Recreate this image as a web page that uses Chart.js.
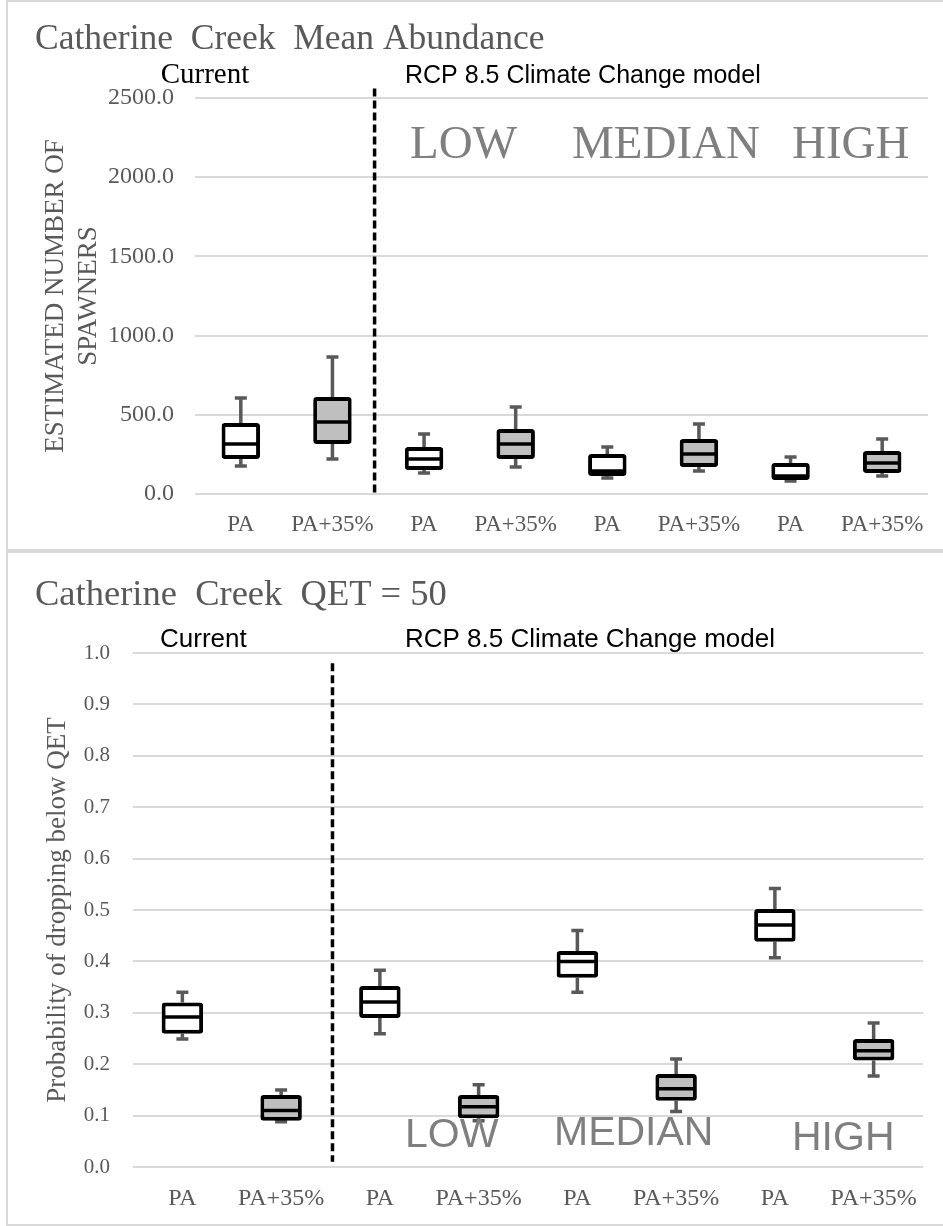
<!DOCTYPE html>
<html>
<head>
<meta charset="utf-8">
<script src="https://cdn.jsdelivr.net/npm/chart.js@4"></script>
<style>
body { margin: 0; background: #fff; width: 943px; height: 1226px; overflow: hidden; position: relative; }
.frame { position: absolute; border: 2px solid #d9d9d9; border-right: none; }
canvas { position: absolute; left: 0; }
</style>
</head>
<body>
<div class="frame" style="left:6px; top:0; width:940px; height:547px;"></div>
<div class="frame" style="left:6px; top:551px; width:940px; height:671px;"></div>
<canvas id="chart1" width="943" height="550" style="top:0"></canvas>
<canvas id="chart2" width="943" height="673" style="top:553px"></canvas>
<script>
// categories (same for both panels)
const categories = ['PA', 'PA+35%', 'PA', 'PA+35%', 'PA', 'PA+35%', 'PA', 'PA+35%'];

// top panel: estimated number of spawners
const abMin = [177, 221, 133, 170, 101, 145, 82, 114];
const abQ1  = [221, 316, 152, 221, 114, 170, 88, 133];
const abMed = [316, 455, 221, 316, 145, 252, 114, 196];
const abQ3  = [448, 612, 297, 410, 252, 347, 196, 271];
const abMax = [606, 865, 379, 549, 297, 442, 234, 347];
const abTicks = [0, 500, 1000, 1500, 2000, 2500];

// bottom panel: probability of dropping below QET
const qMin = [0.249, 0.088, 0.259, 0.090, 0.340, 0.108, 0.407, 0.177];
const qQ1  = [0.259, 0.090, 0.290, 0.095, 0.368, 0.129, 0.438, 0.207];
const qMed = [0.292, 0.110, 0.321, 0.117, 0.400, 0.152, 0.471, 0.226];
const qQ3  = [0.320, 0.140, 0.352, 0.140, 0.420, 0.181, 0.502, 0.249];
const qMax = [0.340, 0.150, 0.383, 0.160, 0.460, 0.210, 0.542, 0.280];
const qTicks = [0, 0.1, 0.2, 0.3, 0.4, 0.5, 0.6, 0.7, 0.8, 0.9, 1.0];

const serif = '"Liberation Serif", "Times New Roman", serif';
const sans = '"Liberation Sans", Arial, sans-serif';
const GREY_TXT = '#595959';
const fills = categories.map((c, i) => i % 2 ? '#bfbfbf' : '#ffffff');

// whiskers, medians, divider and text for one panel
function boxPlugin(st, divider, texts) {
    return {
        id: 'boxplot',
        beforeDatasetsDraw(chart) {
            const ctx = chart.ctx, x = chart.scales.x, y = chart.scales.y;
            ctx.save();
            ctx.strokeStyle = '#595959';
            ctx.lineWidth = 3.5;
            st.max.forEach((mx, i) => {
                const px = x.getPixelForValue(i);
                const top = y.getPixelForValue(mx);
                const bot = y.getPixelForValue(st.min[i]);
                ctx.beginPath();
                ctx.moveTo(px, y.getPixelForValue(st.q3[i])); ctx.lineTo(px, top);
                ctx.moveTo(px - 6, top); ctx.lineTo(px + 6, top);
                ctx.moveTo(px, y.getPixelForValue(st.q1[i])); ctx.lineTo(px, bot);
                ctx.moveTo(px - 6, bot); ctx.lineTo(px + 6, bot);
                ctx.stroke();
            });
            ctx.restore();
        },
        afterDatasetsDraw(chart) {
            const ctx = chart.ctx, x = chart.scales.x, y = chart.scales.y;
            const meta = chart.getDatasetMeta(0);
            ctx.save();
            ctx.strokeStyle = '#000';
            ctx.lineWidth = 3.5;
            meta.data.forEach((bar, i) => {
                const py = y.getPixelForValue(st.med[i]);
                ctx.beginPath();
                ctx.moveTo(bar.x - bar.width / 2 + 2, py);
                ctx.lineTo(bar.x + bar.width / 2 - 2, py);
                ctx.stroke();
            });
            // dashed separator between current and climate model
            const dx = x.getPixelForValue(divider.at);
            ctx.setLineDash([8, 4]);
            ctx.lineWidth = 3.5;
            ctx.beginPath();
            ctx.moveTo(dx, y.getPixelForValue(divider.from));
            ctx.lineTo(dx, y.getPixelForValue(divider.to));
            ctx.stroke();
            ctx.restore();
        },
        afterDraw(chart) {
            const ctx = chart.ctx;
            ctx.save();
            ctx.textBaseline = 'alphabetic';
            texts.forEach(t => {
                ctx.font = t.font;
                ctx.fillStyle = t.color;
                ctx.textAlign = t.align || 'left';
                ctx.fillText(t.text, t.x, t.y);
            });
            ctx.restore();
        }
    };
}

function makeChart(id, cfg) {
    return new Chart(document.getElementById(id).getContext('2d'), {
        type: 'bar',
        data: {
            labels: categories,
            datasets: [{
                data: cfg.q1.map((v, i) => [v, cfg.q3[i]]),
                backgroundColor: fills,
                borderColor: '#000',
                borderWidth: 4,
                borderSkipped: false,
                borderRadius: 3,
                barPercentage: 0.42,
                categoryPercentage: 1
            }]
        },
        options: {
            responsive: false,
            animation: false,
            events: [],
            layout: { padding: cfg.padding },
            plugins: { legend: { display: false }, tooltip: { enabled: false } },
            scales: {
                x: {
                    grid: { display: false },
                    border: { display: false },
                    ticks: { color: GREY_TXT, font: { family: serif, size: cfg.xFont }, padding: cfg.xPad, maxRotation: 0, autoSkip: false },
                    afterFit: s => { s.height = cfg.xHeight; }
                },
                y: {
                    min: cfg.ticks[0],
                    max: cfg.ticks[cfg.ticks.length - 1],
                    afterBuildTicks: s => { s.ticks = cfg.ticks.map(v => ({ value: v })); },
                    grid: { color: '#d9d9d9', lineWidth: 2, drawTicks: false },
                    border: { display: false },
                    ticks: { color: GREY_TXT, font: { family: serif, size: cfg.yFont }, padding: cfg.yPad, callback: v => Number(v).toFixed(1) },
                    title: { display: true, text: cfg.yTitle, color: GREY_TXT, font: { family: serif, size: 27, lineHeight: 1.2 }, padding: { top: cfg.titlePad, bottom: 0 } },
                    afterFit: s => { s.width = cfg.yWidth; }
                }
            }
        },
        plugins: [boxPlugin({ min: cfg.min, q1: cfg.q1, med: cfg.med, q3: cfg.q3, max: cfg.max }, cfg.divider, cfg.texts)]
    });
}

makeChart('chart1', {
    min: abMin, q1: abQ1, med: abMed, q3: abQ3, max: abMax, ticks: abTicks,
    padding: { top: 98, right: 15, bottom: 0, left: 0 },
    yWidth: 195, yPad: 21, yFont: 24, xFont: 23, xPad: 9, xHeight: 56, titlePad: 40,
    yTitle: ['ESTIMATED NUMBER OF', 'SPAWNERS'],
    divider: { at: 1.46, from: 2560, to: 0 },
    texts: [
        { text: 'Catherine  Creek  Mean Abundance', x: 35, y: 49, font: '35.5px ' + serif, color: GREY_TXT },
        { text: 'Current', x: 205, y: 83, align: 'center', font: '29px ' + serif, color: '#000' },
        { text: 'RCP 8.5 Climate Change model', x: 405, y: 83, font: '25px ' + sans, color: '#000' },
        { text: 'LOW', x: 410, y: 158, font: '47px ' + serif, color: '#7f7f7f' },
        { text: 'MEDIAN', x: 572, y: 158, font: '47px ' + serif, color: '#7f7f7f' },
        { text: 'HIGH', x: 792, y: 158, font: '47px ' + serif, color: '#7f7f7f' }
    ]
});

makeChart('chart2', {
    min: qMin, q1: qQ1, med: qMed, q3: qQ3, max: qMax, ticks: qTicks,
    padding: { top: 100, right: 20, bottom: 0, left: 0 },
    yWidth: 133, yPad: 23, yFont: 21, xFont: 24, xPad: 9, xHeight: 59, titlePad: 42,
    yTitle: 'Probability of dropping below QET',
    divider: { at: 1.52, from: 0.98, to: 0.01 },
    texts: [
        { text: 'Catherine  Creek  QET = 50', x: 35, y: 52, font: '36.5px ' + serif, color: GREY_TXT },
        { text: 'Current', x: 160, y: 94, font: '26px ' + sans, color: '#000' },
        { text: 'RCP 8.5 Climate Change model', x: 405, y: 94, font: '26px ' + sans, color: '#000' },
        { text: 'LOW', x: 405, y: 594, font: '41px ' + sans, color: '#7f7f7f' },
        { text: 'MEDIAN', x: 554, y: 592, font: '41px ' + sans, color: '#7f7f7f' },
        { text: 'HIGH', x: 792, y: 597, font: '41px ' + sans, color: '#7f7f7f' }
    ]
});
</script>
</body>
</html>
